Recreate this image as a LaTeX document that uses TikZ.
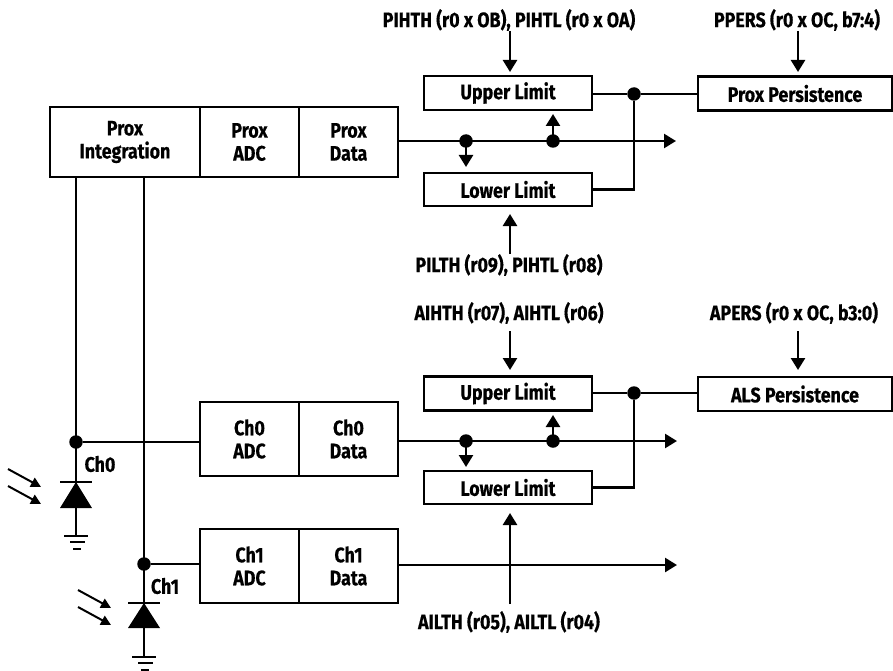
\documentclass[tikz,border=0pt]{standalone}
\usepackage{fontspec}
\setmainfont{Fira Sans}[FakeStretch=0.85,BoldFont={Fira Sans Bold},BoldFeatures={FakeBold=0.4}]
\usetikzlibrary{arrows.meta}
\tikzset{
  wire/.style={line width=2.5pt,line cap=butt},
  arr/.style={wire,-{Triangle[length=12pt,width=14pt]}},
  box/.style={draw,line width=2.5pt,outer sep=0pt,inner sep=0pt,align=center,font=\boxfont},
  lab/.style={inner sep=0pt,align=center,font=\boxfont},
  dot/.style={circle,fill=black,minimum size=13.5pt,inner sep=0pt,outer sep=0pt},
  gnd/.style={line width=2.5pt},
}
\newcommand{\boxfont}{\fontsize{21}{23}\selectfont\bfseries}
\begin{document}
\begin{tikzpicture}[x=1pt,y=-1pt]
\useasboundingbox (0,0) rectangle (893,671);
% boxes
\node[box,minimum width=150pt,minimum height=70pt] (pi) at (125,142) {Prox\\Integration};
\node[box,minimum width=99pt,minimum height=70pt] (pa) at (249.5,142) {Prox\\ADC};
\node[box,minimum width=99pt,minimum height=70pt] (pd) at (348.5,142) {Prox\\Data};
\node[box,minimum width=168pt,minimum height=34pt] (ul1) at (508,93) {Upper Limit};
\node[box,minimum width=168pt,minimum height=33pt] (ll1) at (508,189.5) {Lower Limit};
\node[box,minimum width=194pt,minimum height=34pt] (pp) at (795,93.5) {Prox Persistence};
\node[box,minimum width=168pt,minimum height=34pt] (ul2) at (508,393.5) {Upper Limit};
\node[box,minimum width=168pt,minimum height=33pt] (ll2) at (508,487.5) {Lower Limit};
\node[box,minimum width=194pt,minimum height=34pt] (ap) at (795,394) {ALS Persistence};
\node[box,minimum width=99pt,minimum height=74pt] (c0a) at (249.5,439) {Ch0\\ADC};
\node[box,minimum width=99pt,minimum height=74pt] (c0d) at (348.5,439) {Ch0\\Data};
\node[box,minimum width=99pt,minimum height=74pt] (c1a) at (249.5,566) {Ch1\\ADC};
\node[box,minimum width=99pt,minimum height=74pt] (c1d) at (348.5,566) {Ch1\\Data};
% labels
\node[lab] (l1) at (509,20) {PIHTH (r0 x OB), PIHTL (r0 x OA)};
\node[lab] (l2) at (797,20) {PPERS (r0 x OC, b7:4)};
\node[lab] (l3) at (509,265) {PILTH (r09), PIHTL (r08)};
\node[lab] (l4) at (509,313) {AIHTH (r07), AIHTL (r06)};
\node[lab] (l5) at (794,313) {APERS (r0 x OC, b3:0)};
\node[lab] (l6) at (509,622) {AILTH (r05), AILTL (r04)};
\node[lab] (t0) at (100,464) {Ch0};
\node[lab] (t1) at (165,586) {Ch1};
% dots
\node[dot] (d1a) at (466,141) {};
\node[dot] (d1b) at (553,141) {};
\node[dot] (d1c) at (634,94) {};
\node[dot] (d2a) at (466,441) {};
\node[dot] (d2b) at (553,441) {};
\node[dot] (d2c) at (634,393) {};
\node[dot] (j0) at (76,442) {};
\node[dot] (j1) at (144,564) {};
% free ends
\coordinate (e1) at (676,141);
\coordinate (e2) at (677,441);
\coordinate (e3) at (677,565);
\coordinate (g0) at (76,536);
\coordinate (g1) at (144,657);
% upper group
\draw[arr] (510,31) -- (510,72);
\draw[arr] (798,31) -- (798,72);
\draw[arr] (510,254) -- (510,214);
\draw[arr] (pd.east |- e1) -- (e1);
\draw[arr] (d1a.center) -- (466,167);
\draw[arr] (d1b.center) -- (553,114);
\draw[wire] (ul1.east |- d1c) -- (d1c) -- (pp.west |- d1c);
\draw[wire] (ll1.east) -| (d1c);
% lower group
\draw[arr] (510,331) -- (510,370);
\draw[arr] (798,331) -- (798,370);
\draw[arr] (510,604) -- (510,513);
\draw[arr] (c0d.east |- e2) -- (e2);
\draw[arr] (d2a.center) -- (466,467);
\draw[arr] (d2b.center) -- (553,415);
\draw[wire] (ul2.east |- d2c) -- (d2c) -- (ap.west |- d2c);
\draw[wire] (ll2.east) -| (d2c);
\draw[arr] (c1d.east |- e3) -- (e3);
% sensor wires
\draw[wire] (76,177) -- (j0.center) -- (g0);
\draw[wire] (144,177) -- (j1.center) -- (g1);
\draw[wire] (j0) -- (c0a.west |- j0);
\draw[wire] (j1) -- (c1a.west |- j1);
% diodes
\fill (76,482) -- (92,508) -- (60,508) -- cycle;
\draw[line width=2pt] (60,482) -- (92,482);
\fill (144,603) -- (160,628) -- (128,628) -- cycle;
\draw[line width=2pt] (128,603) -- (160,603);
% grounds
\draw[gnd] (64,536) -- (88,536) (70,542) -- (85,542) (73,549) -- (81,549);
\draw[gnd] (132,657) -- (156,657) (138,663) -- (153,663) (141,670) -- (149,670);
% light
\draw[line width=2pt,-{Triangle[length=10pt,width=10pt]}] (8,469) -- (41,487);
\draw[line width=2pt,-{Triangle[length=10pt,width=10pt]}] (8,486) -- (41,504);
\draw[line width=2pt,-{Triangle[length=10pt,width=10pt]}] (78,590) -- (111,608);
\draw[line width=2pt,-{Triangle[length=10pt,width=10pt]}] (78,607) -- (111,625);
\end{tikzpicture}
\end{document}
